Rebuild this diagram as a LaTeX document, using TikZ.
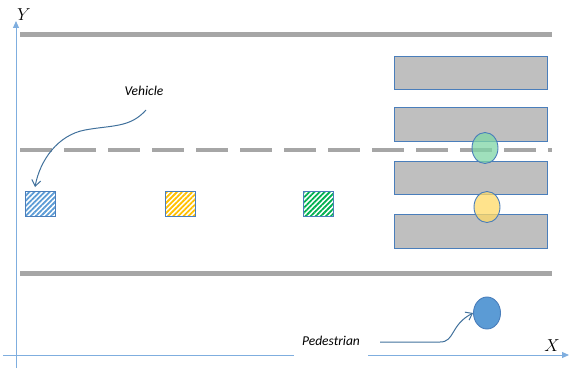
\documentclass[tikz,border=0pt]{standalone}
\usepackage{fontspec}
\newfontfamily\labelfont{Carlito}
\usetikzlibrary{patterns.meta,arrows.meta,shapes.geometric}
\definecolor{axisblue}{HTML}{7FAEDF}
\definecolor{edgeblue}{HTML}{4A7EBB}
\definecolor{roadgray}{HTML}{A6A6A6}
\definecolor{zebragray}{HTML}{BFBFBF}
\definecolor{hatchblue}{HTML}{5B9BD5}
\definecolor{hatchyellow}{HTML}{FFC000}
\definecolor{hatchgreen}{HTML}{00B050}
\definecolor{pedgreen}{HTML}{7FD6A6}
\definecolor{pedyellow}{HTML}{FFD966}
\definecolor{pedblue}{HTML}{5B9BD5}
\definecolor{curveblue}{HTML}{41719C}
\tikzset{
  axis/.style={draw=axisblue, line width=1pt},
  roadline/.style={draw=roadgray, line width=5pt},
  midline/.style={draw=roadgray, line width=4pt, dash pattern=on 32pt off 12pt},
  zebra/.style={draw=edgeblue, fill=zebragray, line width=0.9pt},
  car/.style={draw=edgeblue, line width=0.9pt, minimum width=30pt, minimum height=25pt, inner sep=0pt},
  hatch/.style={pattern={Lines[angle=45,distance=3.6pt,line width=1.8pt]}, pattern color=#1},
  walker/.style={ellipse, draw=edgeblue, line width=0.9pt, minimum width=26pt, minimum height=31pt, inner sep=0pt},
  tag/.style={font=\labelfont\itshape\fontsize{13.5}{16}\selectfont, inner sep=1pt},
  axislabel/.style={font=\fontsize{16}{18}\selectfont, inner sep=0pt},
  pointer/.style={draw=curveblue, line width=1pt, -{Straight Barb[length=6pt,width=9pt]}}
}
\begin{document}
\begin{tikzpicture}[x=1pt,y=-1pt]
\useasboundingbox (0,0) rectangle (570,369);
% axes
\coordinate (xs) at (3,355);
\coordinate (xe) at (569,355);
\coordinate (ys) at (16,368);
\coordinate (ye) at (16,21);
\draw[axis,-{Triangle[length=7pt,width=6pt]}] (xs) -- (xe);
\draw[axis,-{Triangle[length=7pt,width=6pt]}] (ys) -- (ye);
\node[axislabel] (ylab) at (24,15) {$Y$};
\node[axislabel] (xlab) at (552,346) {$X$};
% road edges
\draw[roadline] (20,35) -- (552,35);
\draw[roadline] (20,273) -- (552,273);
% crossing stripes
\draw[zebra] (394,56) rectangle (547,89);
\draw[zebra] (394,107) rectangle (547,141);
\draw[zebra] (394,161) rectangle (547,194);
\draw[zebra] (394,214) rectangle (547,248);
% centre line
\draw[midline] (20,150) -- (552,150);
% pedestrians
\node[walker, fill=pedgreen, fill opacity=0.75] (pg) at (485,148) {};
\node[walker, fill=pedyellow, fill opacity=0.75] (py) at (487,207) {};
\node[walker, fill=pedblue, minimum height=32pt, minimum width=27pt] (pb) at (487,313) {};
% vehicles
\node[car, hatch=hatchblue] (v1) at (40,203.5) {};
\node[car, hatch=hatchyellow] (v2) at (180,203.5) {};
\node[car, hatch=hatchgreen] (v3) at (318,204) {};
% labels with pointers
\node[tag] (vlab) at (144,91) {Vehicle};
\coordinate (vs) at (146,110);
\coordinate (vm) at (85,130);
\coordinate (vt) at (35,187);
\draw[pointer] (vs) .. controls (130,128) and (112,125) .. (vm)
  .. controls (58,135) and (40,160) .. (vt);
\node[tag, fill=white, inner xsep=8pt, inner ysep=12pt] (plab) at (331,341) {Pedestrian};
\coordinate (ps) at (380,342);
\draw[pointer] (ps) -- (440,342) .. controls (455,342) and (450,325) .. (pb.west);
\end{tikzpicture}
\end{document}
